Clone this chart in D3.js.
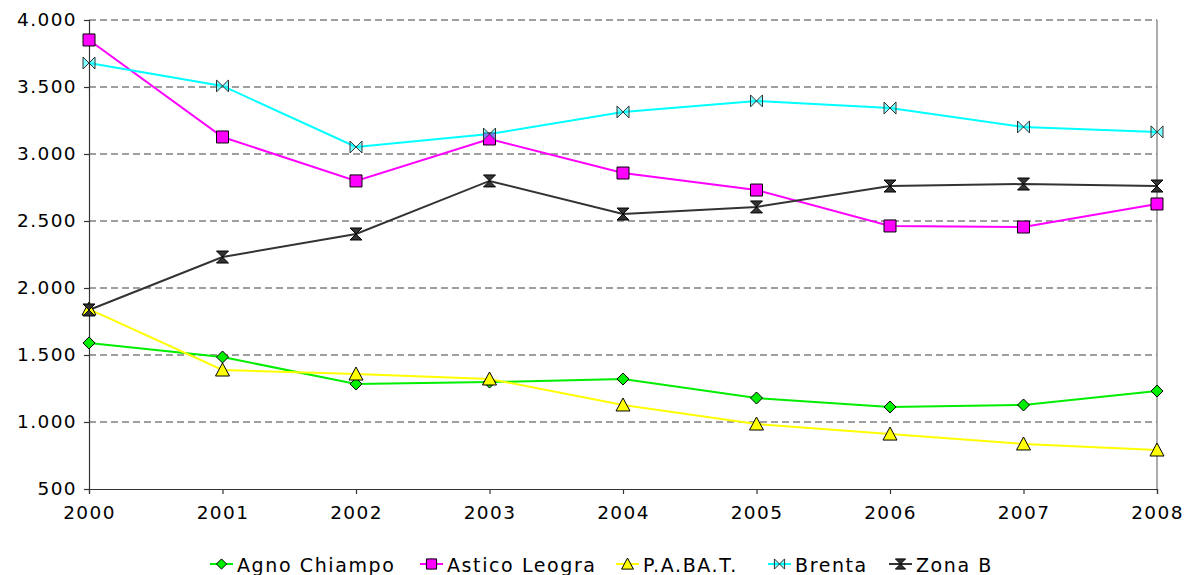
<!DOCTYPE html>
<html><head><meta charset="utf-8">
<script src="https://cdn.jsdelivr.net/npm/d3@7"></script>
<style>body{margin:0;background:#fff}svg{display:block}text{font-family:"DejaVu Sans",Verdana,sans-serif}</style>
</head><body><svg id="c" width="1189" height="575"></svg>
<script>
const years = [2000,2001,2002,2003,2004,2005,2006,2007,2008];
const agno   = [1590,1485,1284,1298,1321,1179,1112,1127,1231];
const astico = [3851,3127,2799,3112,2858,2731,2463,2455,2627];
const pabat  = [1843,1388,1358,1321,1127,985,910,836,791];
const brenta = [3679,3508,3052,3149,3314,3396,3343,3202,3165];
const zonab  = [1836,2231,2403,2799,2552,2605,2761,2776,2761];
const yTicks = [500,1000,1500,2000,2500,3000,3500,4000];
const seriesNames = ["Agno Chiampo","Astico Leogra","P.A.BA.T.","Brenta","Zona B"];

const series = [
 {name:seriesNames[0],vals:agno,color:"#00ee00",m:"diamond"},
 {name:seriesNames[1],vals:astico,color:"#ff00ff",m:"square"},
 {name:seriesNames[2],vals:pabat,color:"#ffff00",m:"tri"},
 {name:seriesNames[3],vals:brenta,color:"#00ffff",m:"bowh"},
 {name:seriesNames[4],vals:zonab,color:"#333333",m:"bowv"}];

const svg=d3.select("#c");
const x=d3.scaleLinear().domain([2000,2008]).range([89,1157]);
const y=d3.scaleLinear().domain([500,4000]).range([489,20]);
const fmt=d=>d3.format(",")(d).replace(/,/g,".");

svg.append("g").selectAll("line").data(yTicks.filter(d=>d>500)).join("line")
 .attr("x1",89).attr("x2",1157).attr("y1",d=>y(d)).attr("y2",d=>y(d))
 .attr("stroke","#808080").attr("stroke-width",1.3).attr("stroke-dasharray","7,4");
svg.append("line").attr("x1",1157).attr("x2",1157).attr("y1",20).attr("y2",489).attr("stroke","#808080").attr("stroke-width",1.3);

const ya=svg.append("g").attr("transform","translate(89,0)")
 .call(d3.axisLeft(y).tickValues(yTicks).tickFormat(fmt).tickSize(5));
const xa=svg.append("g").attr("transform","translate(0,489)")
 .call(d3.axisBottom(x).tickValues(years).tickFormat(d3.format("d")).tickSize(5));
[ya,xa].forEach(a=>{a.selectAll("path,line").attr("stroke","#333").attr("stroke-width",1.2);
 a.selectAll("text").attr("font-size",18.5).attr("letter-spacing",1.4).attr("fill","#000");});
ya.selectAll("text").attr("dx",-4);
xa.selectAll("text").attr("dy",22);

function marker(g,m,color,cx,cy,k){
 k=k||1;
 const s=6*k;
 let p;
 if(m==="diamond") p=`M${cx},${cy-s}L${cx+s},${cy}L${cx},${cy+s}L${cx-s},${cy}Z`;
 if(m==="square") p=`M${cx-s},${cy-s}h${2*s}v${2*s}h${-2*s}Z`;
 if(m==="tri") p=`M${cx},${cy-7*k}L${cx+7*k},${cy+6*k}L${cx-7*k},${cy+6*k}Z`;
 if(m==="bowh") p=`M${cx-s},${cy-s}L${cx+s},${cy+s}L${cx+s},${cy-s}L${cx-s},${cy+s}Z`;
 if(m==="bowv") p=`M${cx-s},${cy-s}L${cx+s},${cy-s}L${cx-s},${cy+s}L${cx+s},${cy+s}Z`;
 if(m==="bowh"){g.append("path").attr("d",p).attr("fill",color).attr("fill-opacity",0.5).attr("stroke","#333").attr("stroke-width",1);return;}
 g.append("path").attr("d",p).attr("fill",color).attr("stroke","#000").attr("stroke-width",1);
}
const line=d3.line().x((d,i)=>x(years[i])).y(d=>y(d));
series.forEach(s=>{
 svg.append("path").datum(s.vals).attr("d",line).attr("fill","none").attr("stroke",s.color).attr("stroke-width",2);
});
series.forEach(s=>{
 const g=svg.append("g");
 s.vals.forEach((v,i)=>marker(g,s.m,s.color,x(years[i]),y(v)));
});

const pos=[210,420,616,768,889];
series.forEach((s,i)=>{
 const g=svg.append("g");
 const x0=pos[i], cy=564;
 g.append("line").attr("x1",x0).attr("x2",x0+23).attr("y1",cy).attr("y2",cy).attr("stroke",s.color).attr("stroke-width",2);
 marker(g,s.m,s.color,x0+11.5,cy,0.85);
 g.append("text").attr("x",x0+27).attr("y",cy+8).attr("font-size",19).attr("letter-spacing",1.6).text(s.name);
});
</script></body></html>
